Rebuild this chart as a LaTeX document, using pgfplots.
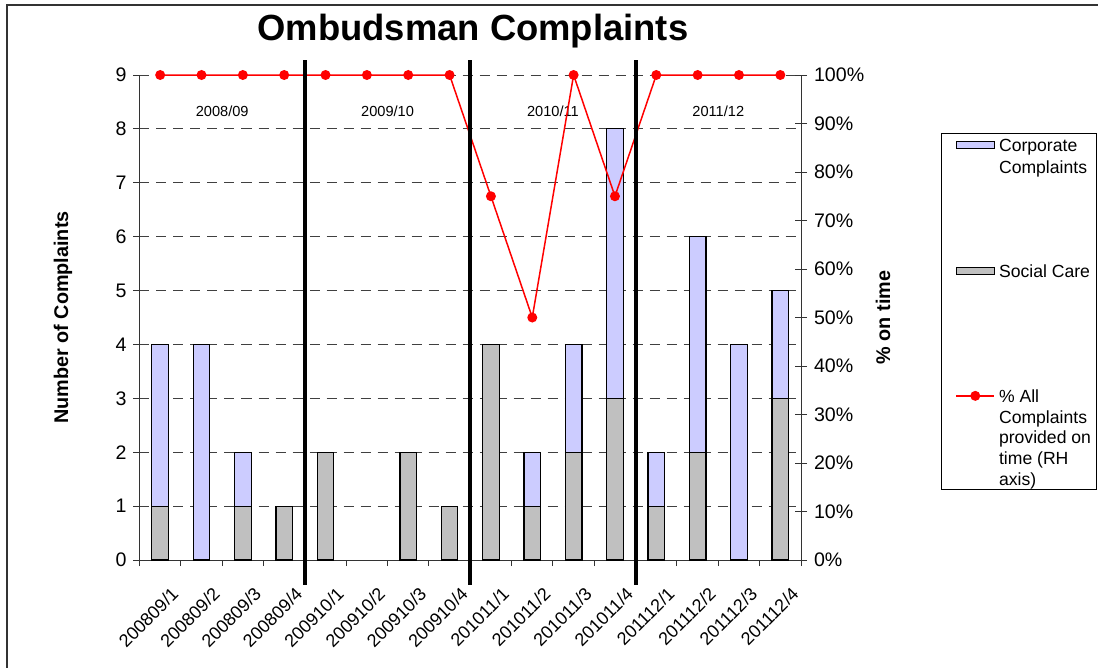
\documentclass[border=0pt]{standalone}
\usepackage{fontspec}
\setmainfont{Liberation Sans}
\usepackage{pgfplots}
\pgfplotsset{compat=1.18}
\definecolor{corp}{HTML}{CCCCFF}
\definecolor{soc}{HTML}{C0C0C0}
\pgfplotsset{
  barleg/.style={legend image code/.code={\draw[##1] (0pt,1.4pt) rectangle (19pt,4.9pt);}},
  lineleg/.style={legend image code/.code={\draw[red, line width=0.75pt] (0pt,3.2pt) -- (19pt,3.2pt);
    \fill[red] (9.5pt,3.2pt) circle (2.1pt);}},
}
\begin{document}
\begin{tikzpicture}
\useasboundingbox (0,0) rectangle (549pt,-334pt);
\draw[line width=1pt, black!80] (3.25pt,-340pt) -- (3.25pt,-2.75pt) -- (560pt,-2.75pt);
\begin{axis}[
  at={(69.75pt,-280pt)}, anchor=south west,
  scale only axis, width=330.75pt, height=242.5pt,
  xmin=0, xmax=16, ymin=0, ymax=9, enlarge x limits=false,
  axis x line=bottom, axis y line=left,
  axis line style={-, black!80, line width=0.5pt},
  ybar stacked, bar width=8.3pt,
  xtick={0,...,16},
  xticklabels={200809/1,200809/2,200809/3,200809/4,200910/1,200910/2,200910/3,200910/4,201011/1,201011/2,201011/3,201011/4,201112/1,201112/2,201112/3,201112/4},
  x tick label as interval,
  xticklabel style={rotate=45, anchor=east, font=\fontsize{9}{11}\selectfont, xshift=0pt, yshift=-14pt},
  ytick={0,...,9},
  yticklabel style={font=\fontsize{9.8}{12}\selectfont},
  /pgf/number format/assume math mode=true,
  tick align=outside, major tick length=3pt,
  tick style={black!80, line width=0.5pt},
  ymajorgrids, grid style={black!75, line width=0.5pt, dash pattern=on 5pt off 3.5pt},
  title={Ombudsman Complaints},
  title style={at={(axis description cs:0.504,1.046)}, anchor=base, font=\fontsize{18.2}{20}\selectfont\bfseries},
  ylabel={Number of Complaints},
  ylabel style={at={(axis description cs:-0.1157,0.5)}, anchor=center, font=\fontsize{9.9}{12}\selectfont\bfseries},
  clip=false,
]
\addplot[fill=soc, draw=black, line width=0.6pt] coordinates {
(0.5,1) (1.5,0) (2.5,1) (3.5,1) (4.5,2) (5.5,0) (6.5,2) (7.5,1)
(8.5,4) (9.5,1) (10.5,2) (11.5,3) (12.5,1) (13.5,2) (14.5,0) (15.5,3)};
\addplot[fill=corp, draw=black, line width=0.6pt] coordinates {
(0.5,3) (1.5,4) (2.5,1) (3.5,0) (4.5,0) (5.5,0) (6.5,0) (7.5,0)
(8.5,0) (9.5,1) (10.5,2) (11.5,5) (12.5,1) (13.5,4) (14.5,4) (15.5,2)};
\node[font=\fontsize{7.3}{9}\selectfont] at (axis cs:2,8.33) {2008/09};
\node[font=\fontsize{7.3}{9}\selectfont] at (axis cs:6,8.33) {2009/10};
\node[font=\fontsize{7.3}{9}\selectfont] at (axis cs:10,8.33) {2010/11};
\node[font=\fontsize{7.3}{9}\selectfont] at (axis cs:14,8.33) {2011/12};
\end{axis}
\begin{axis}[
  at={(69.75pt,-280pt)}, anchor=south west,
  scale only axis, width=330.75pt, height=242.5pt,
  xmin=0, xmax=16, ymin=0, ymax=1, enlarge x limits=false,
  axis x line=none, axis y line=right,
  axis line style={-, black!80, line width=0.5pt},
  ytick={0,0.1,0.2,0.3,0.4,0.5,0.6,0.7,0.8,0.9,1},
  yticklabels={0\%,10\%,20\%,30\%,40\%,50\%,60\%,70\%,80\%,90\%,100\%},
  yticklabel style={font=\fontsize{9.8}{12}\selectfont},
  tick align=center, major tick length=6pt,
  tick style={black!80, line width=0.5pt},
  ylabel={\% on time},
  ylabel style={at={(axis description cs:1.124,0.5)}, anchor=center, font=\fontsize{9.9}{12}\selectfont\bfseries},
  clip=false,
  legend style={at={(axis description cs:1.2117,0.8804)}, anchor=north west,
    draw=black, line width=0.5pt, inner xsep=7pt, inner ysep=3pt,
    row sep=0pt, column sep=2pt,
    cells={anchor=base west},
    nodes={inner sep=0pt, text depth=},
    font=\fontsize{8.8}{11}\selectfont},
]
\addlegendimage{fill=corp, draw=black, line width=0.5pt, barleg}
\addlegendentry{\parbox[t][62.5pt][t]{41.5pt}{\baselineskip=11pt Corporate\\Complaints}}
\addlegendimage{fill=soc, draw=black, line width=0.5pt, barleg}
\addlegendentry{\parbox[t][62.5pt][t]{41.5pt}{\baselineskip=11pt \mbox{Social Care}}}
\addplot[red, line width=0.75pt, mark=*, mark size=2.1pt, mark options={fill=red, draw=red}, lineleg] coordinates {
(0.5,1) (1.5,1) (2.5,1) (3.5,1) (4.5,1) (5.5,1) (6.5,1) (7.5,1)
(8.5,0.75) (9.5,0.5) (10.5,1) (11.5,0.75) (12.5,1) (13.5,1) (14.5,1) (15.5,1)};
\addlegendentry{\parbox[t][47pt][t]{41.5pt}{\baselineskip=10.4pt \% All\\Complaints\\\mbox{provided on}\\time (RH\\axis)}}
\draw[line width=2pt, black] (axis cs:4,-0.0515) -- (axis cs:4,1.031);
\draw[line width=2pt, black] (axis cs:8,-0.0515) -- (axis cs:8,1.031);
\draw[line width=2pt, black] (axis cs:12,-0.0515) -- (axis cs:12,1.031);
\end{axis}
\end{tikzpicture}
\end{document}
